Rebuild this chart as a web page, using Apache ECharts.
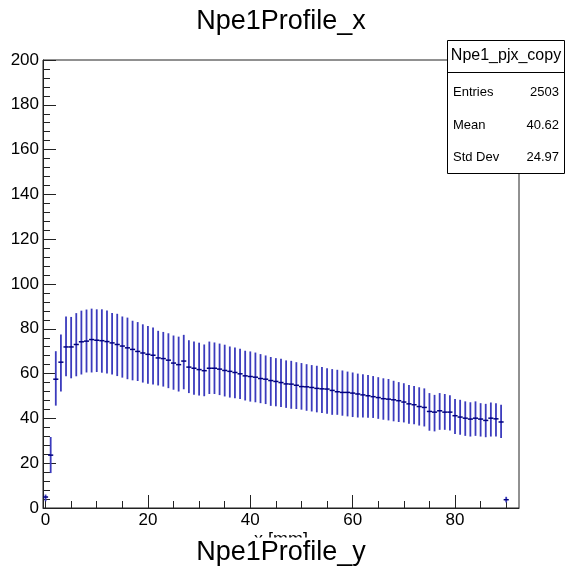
<!DOCTYPE html>
<html><head><meta charset="utf-8">
<script src="https://cdn.jsdelivr.net/npm/echarts@6/dist/echarts.min.js"></script>
<style>html,body{margin:0;padding:0;background:#fff;}#c{width:566px;height:572px;}</style>
</head><body><div id="c"></div>
<script>
// Bin centres (x in mm)
const binX = [0,1,2,3,4,5,6,7,8,9,10,11,12,13,14,15,16,17,18,19,20,21,22,23,24,25,26,27,28,29,30,
  31,32,33,34,35,36,37,38,39,40,41,42,43,44,45,46,47,48,49,50,51,52,53,54,55,56,57,58,59,60,
  61,62,63,64,65,66,67,68,69,70,71,72,73,74,75,76,77,78,79,80,81,82,83,84,85,86,87,88,89,90];
// Profile mean per bin
const meanY = [4.9,23.6,57.5,65.1,71.9,71.9,73.0,74.2,74.5,75.2,74.9,74.7,74.3,73.7,73.0,72.3,71.5,70.8,69.9,69.2,
  68.6,68.2,67.0,66.7,66.0,64.7,64.0,65.6,62.9,62.4,61.8,61.3,62.4,62.4,62.0,61.4,61.0,60.5,59.9,59.0,
  58.7,58.4,57.8,57.5,56.9,56.5,56.0,55.4,55.3,54.8,54.2,54.1,53.8,53.4,53.2,53.1,52.5,51.9,51.6,51.6,
  51.3,50.9,50.5,50.1,49.7,49.3,48.8,48.6,48.3,47.9,47.3,46.5,46.1,45.3,44.9,43.1,42.8,43.4,42.8,42.8,
  41.2,40.6,40.1,39.7,40.1,39.7,39.1,40.1,39.8,38.4,3.7];
// Error bar upper end per bin
const highY = [6.0,31.7,70.0,77.4,85.5,85.3,87.0,88.1,88.6,89.0,88.7,88.7,88.2,87.1,86.7,85.5,85.0,83.6,83.0,82.0,
  81.3,80.6,79.1,78.6,78.0,77.0,76.5,77.3,74.9,74.3,73.8,73.0,74.3,73.9,73.4,72.9,72.1,71.7,71.1,70.2,
  69.9,69.4,68.7,68.1,67.4,66.9,66.6,65.9,65.7,65.1,64.7,64.2,63.8,63.5,62.9,62.4,62.0,61.7,61.4,60.9,
  60.5,60.0,59.7,59.4,58.9,58.4,57.9,57.6,56.8,56.2,55.7,54.9,54.5,53.9,53.4,51.3,50.5,51.3,50.9,50.3,
  48.7,48.3,47.6,47.2,47.6,46.8,46.5,47.1,46.8,46.1,5.0];
// Error bar lower end per bin
const lowY = [3.0,15.6,45.7,52.0,58.8,57.9,58.8,59.6,60.5,60.5,60.7,60.4,60.0,59.6,58.9,58.2,57.5,57.0,56.7,56.0,
  55.5,55.1,54.7,54.2,53.5,52.8,52.0,53.0,51.3,50.6,50.2,49.9,50.9,50.9,50.4,49.8,49.3,49.0,48.7,48.0,
  47.5,47.2,46.8,46.4,45.6,45.4,45.1,44.7,44.3,44.2,43.9,43.4,43.1,42.7,42.4,42.1,41.6,41.6,41.2,40.9,
  40.6,40.4,40.4,40.3,40.2,39.8,39.4,39.1,38.7,38.4,38.2,37.6,37.4,36.8,36.4,34.5,34.2,34.9,34.9,34.6,
  33.0,32.7,32.2,31.9,32.2,31.9,31.6,31.9,31.9,31.2,2.5];
const xMajorTicks = [0,20,40,60,80];
const xMinorTicks = [5,10,15,25,30,35,45,50,55,65,70,75,85,90];
const statsLabels = ['Entries','Mean','Std Dev'];
const statsValues = ['2503','40.62','24.97'];
const binHalfWidth = 0.5;

const FONT = 'Liberation Sans, Arial, Helvetica, sans-serif';
const AX = '#222';
const chart = echarts.init(document.getElementById('c'), null, {renderer:'canvas'});

const data = binX.map((x,i)=>[x, meanY[i], lowY[i], highY[i]]);

const graphics = [
  {type:'text', left:'center', top:0, z:100, style:{text:'Npe1Profile_x', x:281, y:22, fontSize:27, fontFamily:FONT, fill:'#000', textAlign:'center', textVerticalAlign:'middle'}, left:null, top:null, x:0, y:0},
  {type:'text', z:100, style:{text:'x [mm]', x:281, y:540, fontSize:18, fontFamily:FONT, fill:'#000', textAlign:'center', textVerticalAlign:'middle'}},
  {type:'rect', z:101, shape:{x:0, y:537.5, width:566, height:40}, style:{fill:'#fff'}},
  {type:'text', z:102, style:{text:'Npe1Profile_y', x:281, y:553, fontSize:27, fontFamily:FONT, fill:'#000', textAlign:'center', textVerticalAlign:'middle'}},
  {type:'rect', z:110, shape:{x:447.5, y:40.5, width:117, height:133}, style:{fill:'#fff', stroke:'#000', lineWidth:1}},
  {type:'line', z:111, shape:{x1:447.5, y1:72.5, x2:564.5, y2:72.5}, style:{stroke:'#000', lineWidth:1}},
  {type:'text', z:112, style:{text:'Npe1_pjx_copy', x:506, y:56, fontSize:16, fontFamily:FONT, fill:'#000', textAlign:'center', textVerticalAlign:'middle'}}
];
const rowY = [92, 125, 157];
statsLabels.forEach((l,i)=>{
  graphics.push({type:'text', z:112, style:{text:l, x:453, y:rowY[i], fontSize:13, fontFamily:FONT, fill:'#000', textAlign:'left', textVerticalAlign:'middle'}});
  graphics.push({type:'text', z:112, style:{text:statsValues[i], x:559, y:rowY[i], fontSize:13, fontFamily:FONT, fill:'#000', textAlign:'right', textVerticalAlign:'middle'}});
});

chart.setOption({
  animation:false,
  backgroundColor:'#fff',
  grid:{left:43, right:47, top:60, bottom:64, show:true, borderColor:AX, borderWidth:1, backgroundColor:'transparent'},
  xAxis:[
    {type:'value', min:-0.5, max:92.5, position:'bottom',
     axisLine:{show:true, onZero:false, lineStyle:{color:AX, width:1}},
     axisTick:{show:true, inside:true, length:13, customValues:xMajorTicks, lineStyle:{color:AX, width:1}},
     axisLabel:{show:true, customValues:xMajorTicks, fontSize:17, fontFamily:FONT, color:'#000', margin:4},
     splitLine:{show:false}},
    {type:'value', min:-0.5, max:92.5, position:'bottom',
     axisLine:{show:false, onZero:false},
     axisTick:{show:true, inside:true, length:7, customValues:xMinorTicks, lineStyle:{color:AX, width:1}},
     axisLabel:{show:false, customValues:xMinorTicks},
     splitLine:{show:false}}
  ],
  yAxis:{type:'value', min:0, max:200, interval:20,
    axisLine:{show:true, onZero:false, lineStyle:{color:AX, width:1}},
    axisTick:{show:true, inside:true, length:13, lineStyle:{color:AX, width:1}},
    minorTick:{show:true, splitNumber:5, length:7, lineStyle:{color:AX, width:1}},
    axisLabel:{fontSize:17, fontFamily:FONT, color:'#000', margin:4, showMinLabel:true, showMaxLabel:true},
    splitLine:{show:false}},
  graphic: graphics.map(g=>{ const o = Object.assign({}, g); delete o.left; delete o.top; return o; }),
  series:[{
    type:'custom', xAxisIndex:0, yAxisIndex:0,
    data:data,
    encode:{x:0, y:[1,2,3]},
    clip:false,
    renderItem:function(params, api){
      const x = api.value(0), m = api.value(1), lo = api.value(2), hi = api.value(3);
      const a = api.coord([x, lo]), b = api.coord([x, hi]);
      const l = api.coord([x-binHalfWidth, m]), r = api.coord([x+binHalfWidth, m]);
      return {type:'group', children:[
        {type:'line', shape:{x1:a[0], y1:a[1], x2:b[0], y2:b[1]}, style:{stroke:'#3b3bbd', lineWidth:1.8}},
        {type:'line', shape:{x1:l[0], y1:l[1], x2:r[0], y2:r[1]}, style:{stroke:'#00007f', lineWidth:1.5}}
      ]};
    }
  }]
});
</script>
</body></html>
